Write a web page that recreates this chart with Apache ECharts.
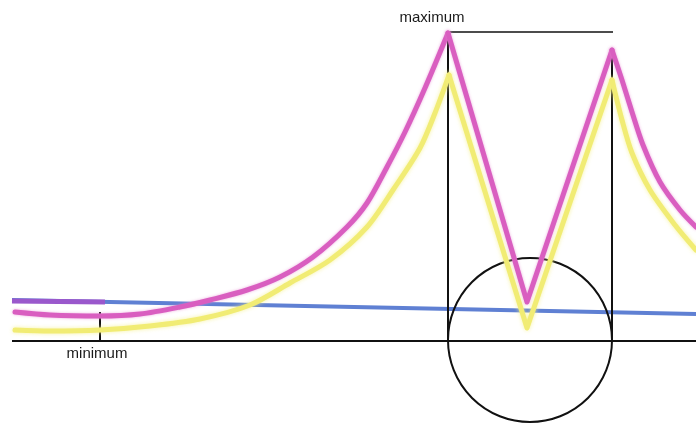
<!DOCTYPE html>
<html><head><meta charset="utf-8">
<script src="https://cdn.jsdelivr.net/npm/echarts@6/dist/echarts.min.js"></script>
<style>html,body{margin:0;padding:0;background:#fff}#c{width:696px;height:423px}</style>
</head><body><div id="c"></div>
<script>
// Coordinates in diagram units (x to the right, y downward)
const magentaRise = [[15,312],[50,315],[100,316],[140,314],[180,307],[210,300],[247,290],[280,277],[313,257],[347,227],[367,203],[387,167],[405,132],[425,88],[448,33]];
const magentaV = [[448,33],[527,302],[612,50]];
const magentaFall = [[612,50],[622,80],[632,112],[643,145],[660,182],[680,210],[696,227]];
const yellowRise = [[15,330],[50,331],[100,330],[150,326],[200,319],[250,305],[290,283],[330,260],[367,227],[393,190],[420,148],[435,113],[449,75]];
const yellowV = [[449,75],[527,328],[612,80]];
const yellowFall = [[612,80],[622,120],[632,153],[650,190],[675,225],[696,250]];
const blueLine = [[12,300],[696,314]];
const purpleLine = [[12,301],[105,302]];
const baseLine = [[12,341],[696,341]];
const maxTopLine = [[450,32],[613,32]];
const leftDrop = [[448,40],[448,341]];
const rightDrop = [[612,58],[612,341]];
const minTick = [[100,312],[100,341]];
const circle = [[530,340,82]];
const labels = [{text:'maximum', pos:[432,18]},{text:'minimum', pos:[97,354]}];

const chart = echarts.init(document.getElementById('c'));
const blk = (data, w) => ({type:'line', data, symbol:'none', lineStyle:{color:'#111', width:w}, z:3, silent:true});
const yl = (data, smooth) => ({type:'line', data, symbol:'none', smooth, lineStyle:{color:'#f1ec74', width:5, shadowColor:'rgba(245,240,140,0.8)', shadowBlur:4, join:'round', cap:'round'}, z:4});
const mg = (data, smooth) => ({type:'line', data, symbol:'none', smooth, lineStyle:{color:'#d95ec0', width:5, shadowColor:'rgba(230,140,210,0.7)', shadowBlur:3, join:'round', cap:'round'}, z:5});
chart.setOption({
  animation:false,
  grid:{left:0,right:0,top:0,bottom:0},
  xAxis:{type:'value',min:0,max:696,show:false},
  yAxis:{type:'value',min:0,max:423,inverse:true,show:false},
  series:[
    {type:'line', data:blueLine, symbol:'none', lineStyle:{color:'#5f80d3', width:4}, z:2},
    {type:'line', data:purpleLine, symbol:'none', lineStyle:{color:'#9a58cc', width:5}, z:2},
    yl(yellowRise,0.3), yl(yellowV,false), yl(yellowFall,0.3),
    mg(magentaRise,0.3), mg(magentaV,false), mg(magentaFall,0.3),
    blk(baseLine,2), blk(maxTopLine,1.5), blk(leftDrop,2), blk(rightDrop,2), blk(minTick,2),
    {type:'custom', data:circle, z:3, renderItem:(params, api) => {
      const c = api.coord([api.value(0), api.value(1)]);
      const s = api.size([api.value(2), api.value(2)]);
      return {type:'circle', shape:{cx:c[0], cy:c[1], r:s[0]}, style:{fill:null, stroke:'#111', lineWidth:2}};
    }},
    {type:'scatter', symbolSize:0, z:6, itemStyle:{opacity:1}, data:labels.map(l => ({value:l.pos, name:l.text})),
      label:{show:true, position:'inside', formatter:p => p.name, color:'#1a1a1a', textBorderWidth:0, fontSize:15, fontFamily:'Liberation Sans, Arial, sans-serif'}}
  ]
});
</script></body></html>
